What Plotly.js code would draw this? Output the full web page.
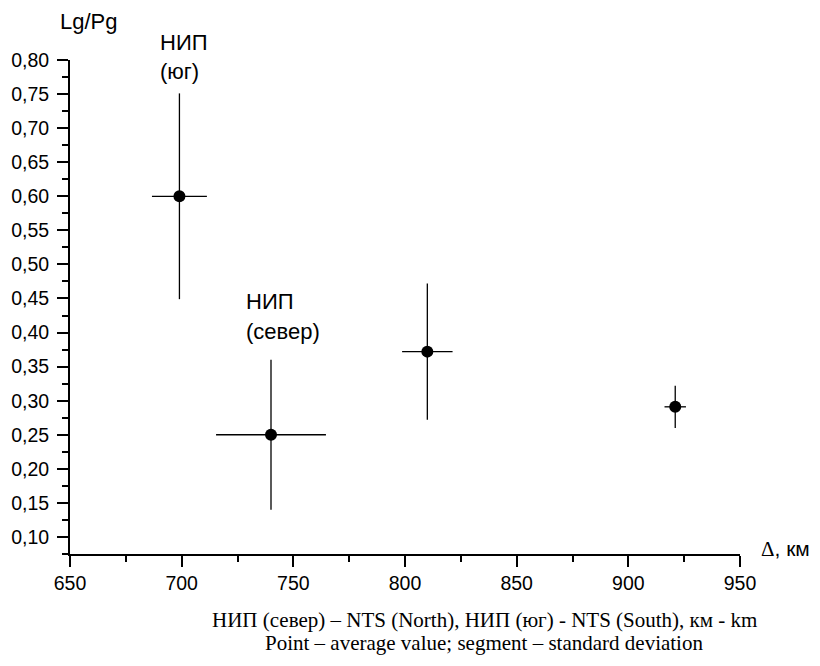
<!DOCTYPE html>
<html>
<head>
<meta charset="utf-8">
<script src="https://cdn.plot.ly/plotly-3.0.1.min.js"></script>
<style>
html,body{margin:0;padding:0;background:#fff;}
#chart{width:820px;height:666px;}
</style>
</head>
<body>
<div id="chart"></div>
<script>
// Data
const distanceKm = [699, 740, 810, 921];
const ratioMean = [0.60, 0.25, 0.372, 0.291];
const ratioStd = [0.151, 0.11, 0.10, 0.031];
const distanceStd = [12.3, 24.6, 11.3, 4.8];
const xTicks = [650, 700, 750, 800, 850, 900, 950];
const yTicks = [0.10, 0.15, 0.20, 0.25, 0.30, 0.35, 0.40, 0.45, 0.50, 0.55, 0.60, 0.65, 0.70, 0.75, 0.80];

const trace = {
  type: 'scatter',
  mode: 'markers',
  x: distanceKm,
  y: ratioMean,
  marker: {color: '#000', size: 12},
  error_y: {type: 'data', array: ratioStd, visible: true, color: '#000', thickness: 1.3, width: 0},
  error_x: {type: 'data', array: distanceStd, visible: true, color: '#000', thickness: 1.3, width: 0},
  hoverinfo: 'skip'
};

const sans = 'Liberation Sans, Arial, sans-serif';
const serif = 'Liberation Serif, Times New Roman, serif';
const axisFont = {family: sans, size: 19.5, color: '#000'};
const lblFont = {family: sans, size: 22, color: '#000'};
const layout = {
  width: 820, height: 666,
  margin: {l: 70, r: 80, t: 60, b: 112},
  paper_bgcolor: '#fff', plot_bgcolor: '#fff',
  showlegend: false,
  separators: ', ',
  xaxis: {
    range: [650, 950], tickvals: xTicks, ticktext: xTicks.map(String),
    showline: true, linecolor: '#000', linewidth: 2, ticks: 'outside', ticklen: 11, tickwidth: 2, tickcolor: '#000',
    minor: {dtick: 25, tick0: 650, ticks: 'outside', ticklen: 6, tickwidth: 2, tickcolor: '#000'},
    showgrid: false, zeroline: false, tickfont: axisFont
  },
  yaxis: {
    range: [0.075, 0.80], tickvals: yTicks, tickformat: '.2f', ticklabelstandoff: 4,
    showline: true, linecolor: '#000', linewidth: 2, ticks: 'outside', ticklen: 11, tickwidth: 2, tickcolor: '#000',
    minor: {dtick: 0.025, tick0: 0.075, ticks: 'outside', ticklen: 6, tickwidth: 2, tickcolor: '#000'},
    showgrid: false, zeroline: false, tickfont: axisFont
  },
  annotations: [
    {xref: 'paper', yref: 'paper', x: -0.018, y: 1.077, xanchor: 'left', yanchor: 'middle', text: 'Lg/Pg', showarrow: false, font: {family: sans, size: 22, color: '#000'}},
    {xref: 'paper', yref: 'paper', x: 1.028, y: 0.01, xanchor: 'left', yanchor: 'middle', text: '<span style="font-family:Liberation Serif">Δ</span>, км', showarrow: false, font: {family: sans, size: 21, color: '#000'}},
    {xref: 'paper', yref: 'paper', x: 0.132, y: 1.036, xanchor: 'left', yanchor: 'middle', text: 'НИП', showarrow: false, font: lblFont},
    {xref: 'paper', yref: 'paper', x: 0.132, y: 0.976, xanchor: 'left', yanchor: 'middle', text: '(юг)', showarrow: false, font: lblFont},
    {xref: 'x', yref: 'y', x: 728.0, y: 0.446, xanchor: 'left', yanchor: 'middle', text: 'НИП', showarrow: false, font: lblFont},
    {xref: 'x', yref: 'y', x: 728.0, y: 0.402, xanchor: 'left', yanchor: 'middle', text: '(север)', showarrow: false, font: lblFont},
    {xref: 'paper', yref: 'paper', x: 0.618, y: -0.134, xanchor: 'center', yanchor: 'middle', text: 'НИП (север) – NTS (North), НИП (юг) - NTS (South), км - km', showarrow: false, font: {family: serif, size: 21, color: '#000'}},
    {xref: 'paper', yref: 'paper', x: 0.618, y: -0.181, xanchor: 'center', yanchor: 'middle', text: 'Point – average value; segment – standard deviation', showarrow: false, font: {family: serif, size: 21, color: '#000'}}
  ]
};

Plotly.newPlot('chart', [trace], layout, {staticPlot: true, displayModeBar: false});
</script>
</body>
</html>
